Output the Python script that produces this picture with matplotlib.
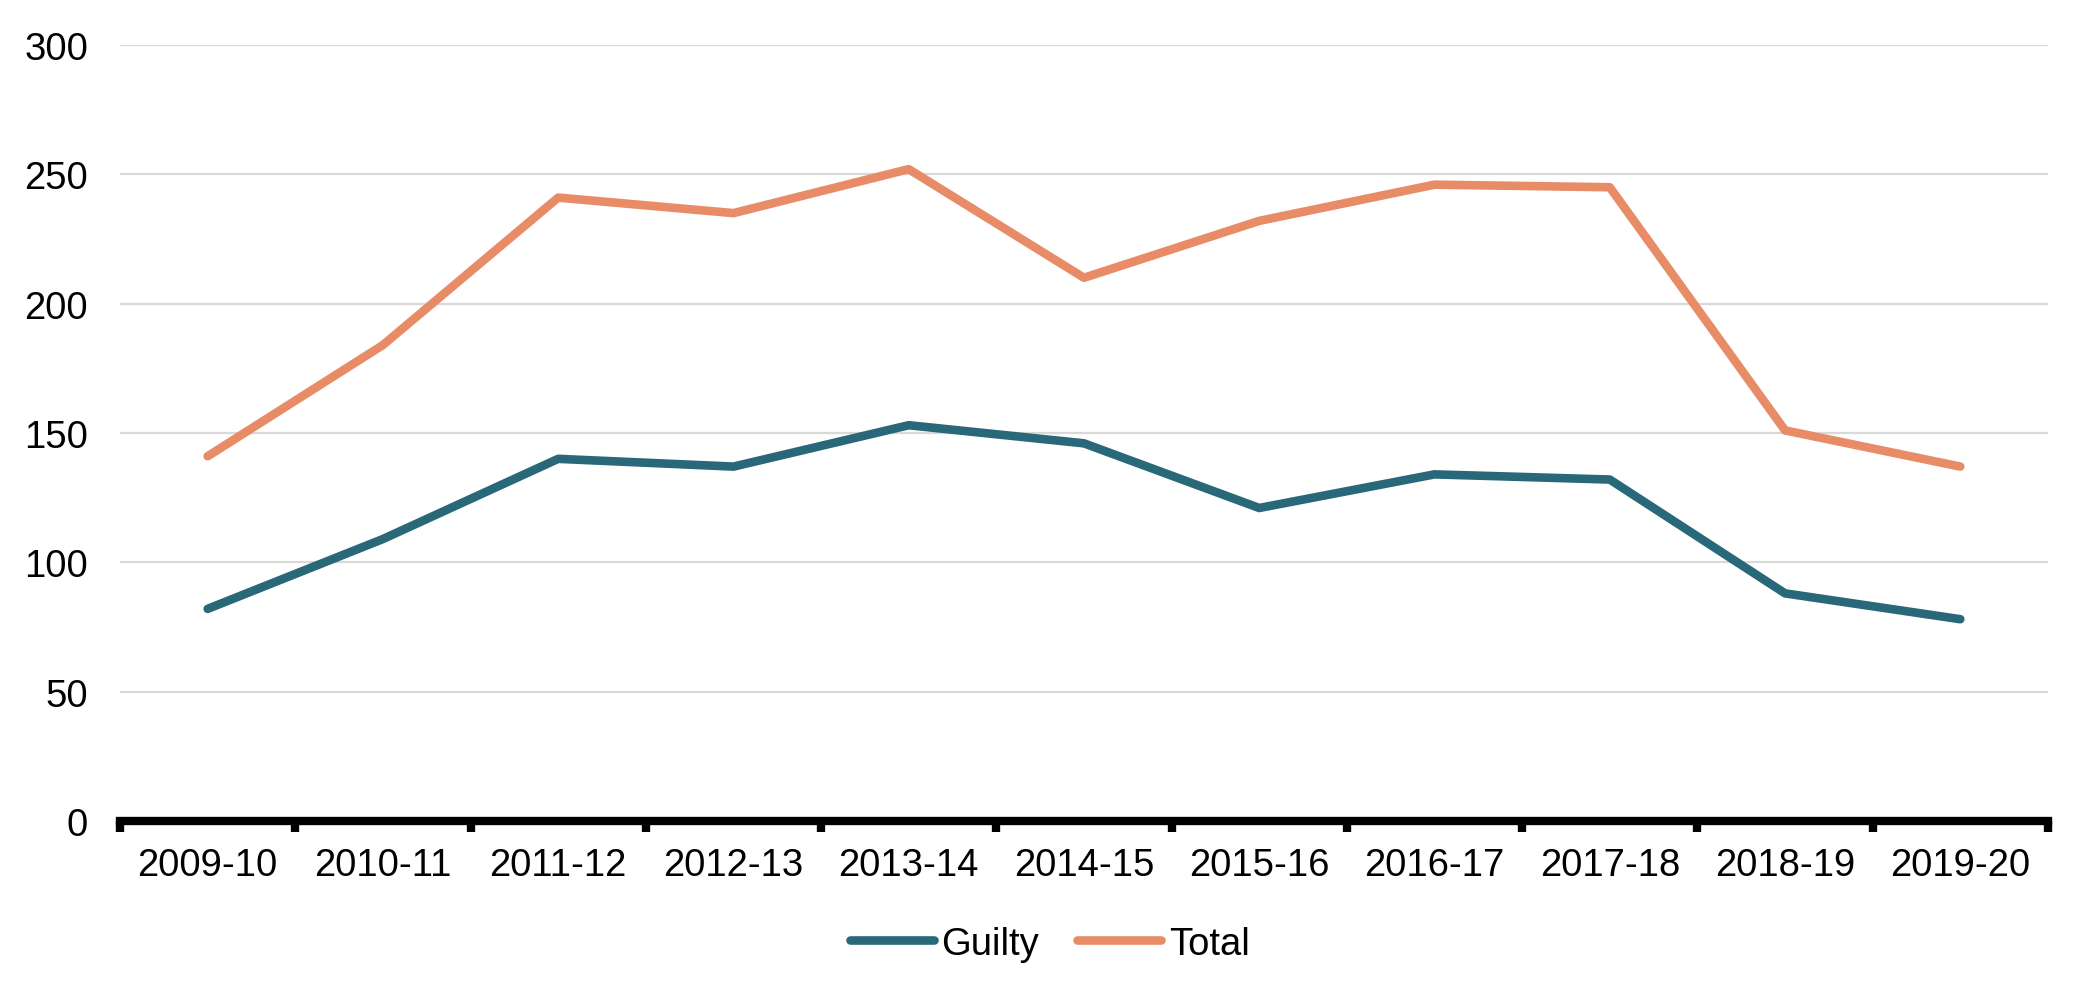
import matplotlib
matplotlib.use('Agg')
import matplotlib.pyplot as plt
import numpy as np

plt.rcParams['font.family'] = ['Liberation Sans', 'DejaVu Sans']

years = ['2009-10', '2010-11', '2011-12', '2012-13', '2013-14', '2014-15',
         '2015-16', '2016-17', '2017-18', '2018-19', '2019-20']
guilty = [82, 109, 140, 137, 153, 146, 121, 134, 132, 88, 78]
total = [141, 184, 241, 235, 252, 210, 232, 246, 245, 151, 137]

guilty_color = '#286879'
total_color = '#E88B67'

fig = plt.figure(figsize=(20.91, 10.04), dpi=100)
ax = fig.add_axes([0.0574, 0.1813, 0.922, 0.7729])

x = np.arange(len(years))
ax.plot(x, guilty, color=guilty_color, lw=6.2, label='Guilty',
        solid_capstyle='round', solid_joinstyle='round', zorder=3)
ax.plot(x, total, color=total_color, lw=6.2, label='Total',
        solid_capstyle='round', solid_joinstyle='round', zorder=3)

ax.set_xlim(-0.5, len(years) - 0.5)
ax.set_ylim(0, 300)
ax.set_yticks(range(0, 301, 50))
ax.yaxis.grid(True, color='#D9D9D9', lw=1.6)
ax.set_axisbelow(True)

# ticks between categories, labels at centres
ax.set_xticks(np.arange(-0.5, len(years), 1))
ax.set_xticklabels([])
ax.set_xticks(x, minor=True)
ax.set_xticklabels(years, minor=True)
ax.tick_params(axis='x', which='major', direction='out', length=8, width=6, color='black')
ax.tick_params(axis='x', which='minor', length=0, pad=19, labelsize=27.5)
ax.tick_params(axis='y', length=0, pad=23, labelsize=27.5)

for s in ['top', 'right', 'left']:
    ax.spines[s].set_visible(False)
ax.spines['bottom'].set_linewidth(6)
ax.spines['bottom'].set_color('black')
ax.spines['bottom'].set_capstyle('projecting')

fig.legend(loc='center', bbox_to_anchor=(0.502, 0.059), ncol=2, frameon=False,
           fontsize=27.5, handlelength=2.2, handletextpad=0.2, columnspacing=1.0)

fig.savefig('out.png', dpi=100)
